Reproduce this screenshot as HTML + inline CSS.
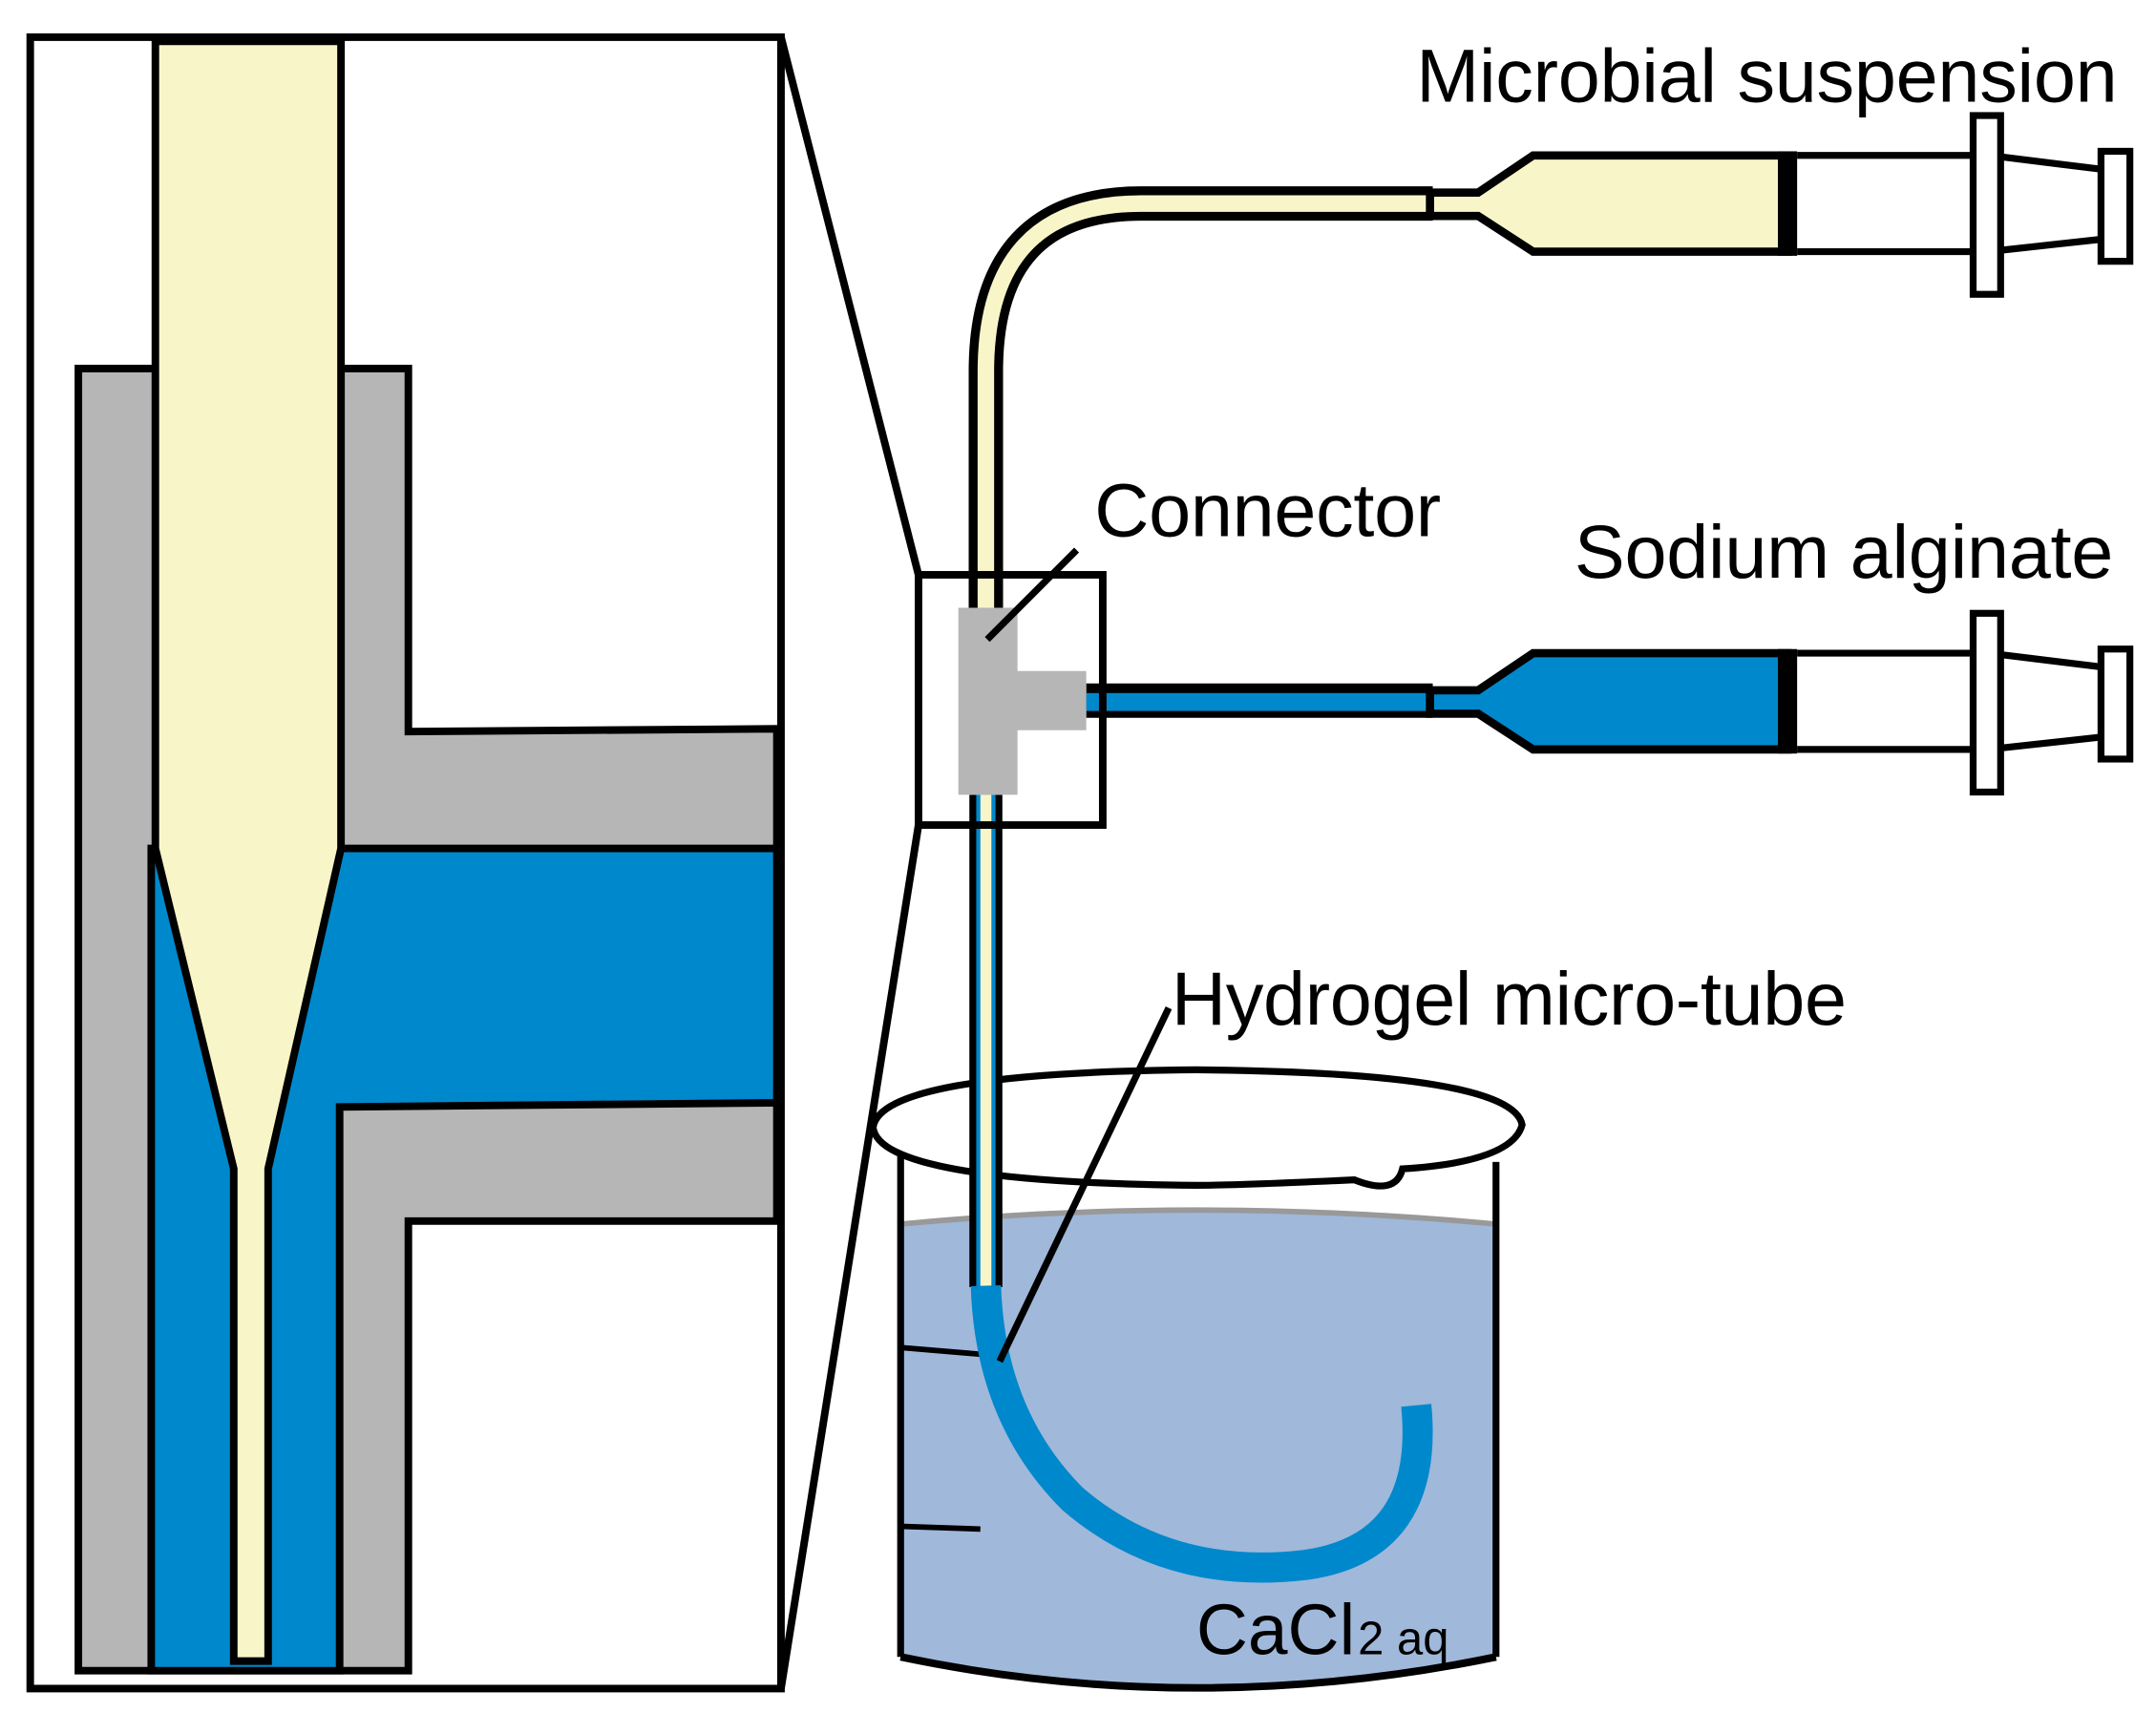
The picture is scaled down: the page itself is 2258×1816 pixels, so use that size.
<!DOCTYPE html>
<html><head><meta charset="utf-8"><style>html,body{margin:0;padding:0;background:#fff}svg{display:block}</style></head>
<body>
<svg width="2258" height="1816" viewBox="0 0 1568 1261" xmlns="http://www.w3.org/2000/svg" font-family="Liberation Sans, Arial, sans-serif">
<rect width="1568" height="1261" fill="#fff"/>
<g stroke-width="5.5">
<rect x="22" y="27" width="546" height="1201" fill="#fff" stroke="#000"/>
<polygon points="57,268 297,268 297,532 565,530 565,888 297,888 297,1215 57,1215" fill="#b5b6b5" stroke="#000"/>
<polygon points="110,617 565,617 565,802 247,805 247,1215 110,1215" fill="#0088cc" stroke="#000"/>
<polygon points="113,30 248,30 248,617 195,850 195,1208 170,1208 170,850 113,617" fill="#f8f6c8" stroke="#000"/>
<line x1="568" y1="27" x2="668" y2="418" stroke="#000"/>
<line x1="568" y1="1228" x2="668" y2="600" stroke="#000"/>
</g>
<path d="M717,445 L717,270 Q717,148 830,148 L1042,148" fill="none" stroke="#000" stroke-width="25"/>
<path d="M717,445 L717,270 Q717,148 830,148 L1042,148" fill="none" stroke="#f8f6c8" stroke-width="12"/>
<rect x="790" y="497" width="252" height="25" fill="#000"/>
<rect x="790" y="504" width="252" height="13" fill="#0088cc"/>
<g>
<polygon points="1040,140 1075,140 1115,113 1300,113 1300,183 1115,183 1075,157 1040,157" fill="#f8f6c8" stroke="#000" stroke-width="6"/>
<line x1="1041" y1="138" x2="1041" y2="159" stroke="#000" stroke-width="3"/>
<rect x="1293" y="110" width="14" height="76" fill="#000"/>
<line x1="1307" y1="113" x2="1436" y2="113" stroke="#000" stroke-width="5"/>
<line x1="1307" y1="183" x2="1436" y2="183" stroke="#000" stroke-width="5"/>
<rect x="1435" y="84" width="20" height="130" fill="#fff" stroke="#000" stroke-width="5"/>
<line x1="1455" y1="114" x2="1528" y2="123" stroke="#000" stroke-width="5"/>
<line x1="1455" y1="182" x2="1528" y2="174" stroke="#000" stroke-width="5"/>
<rect x="1528" y="110" width="21" height="80" fill="#fff" stroke="#000" stroke-width="5"/>
</g>
<g transform="translate(0,362)">
<polygon points="1040,140 1075,140 1115,113 1300,113 1300,183 1115,183 1075,157 1040,157" fill="#0088cc" stroke="#000" stroke-width="6"/>
<line x1="1041" y1="138" x2="1041" y2="159" stroke="#000" stroke-width="3"/>
<rect x="1293" y="110" width="14" height="76" fill="#000"/>
<line x1="1307" y1="113" x2="1436" y2="113" stroke="#000" stroke-width="5"/>
<line x1="1307" y1="183" x2="1436" y2="183" stroke="#000" stroke-width="5"/>
<rect x="1435" y="84" width="20" height="130" fill="#fff" stroke="#000" stroke-width="5"/>
<line x1="1455" y1="114" x2="1528" y2="123" stroke="#000" stroke-width="5"/>
<line x1="1455" y1="182" x2="1528" y2="174" stroke="#000" stroke-width="5"/>
<rect x="1528" y="110" width="21" height="80" fill="#fff" stroke="#000" stroke-width="5"/>
</g>
<path d="M657,890 Q870,870 1086,890 L1086,1205 Q870,1248 657,1205 Z" fill="#a0b8da"/>
<path d="M657,890 Q870,870 1086,890" fill="none" stroke="#999" stroke-width="4"/>
<path d="M655,1205 Q870,1250 1088,1205" fill="none" stroke="#000" stroke-width="5.5"/>
<line x1="655" y1="835" x2="655" y2="1205" stroke="#000" stroke-width="5"/>
<line x1="1088" y1="845" x2="1088" y2="1205" stroke="#000" stroke-width="5"/>
<path d="M635,820 Q640,780 870,778 Q1100,780 1107,818 Q1100,845 1020,850 Q1015,870 985,858 Q900,862 870,862 Q640,860 635,820 Z" fill="#fff" stroke="#000" stroke-width="5"/>
<line x1="655" y1="980" x2="715" y2="985" stroke="#000" stroke-width="4"/>
<line x1="655" y1="1110" x2="713" y2="1112" stroke="#000" stroke-width="4"/>
<rect x="705" y="578" width="24" height="358" fill="#000"/>
<rect x="710" y="578" width="14" height="358" fill="#0088cc"/>
<rect x="713" y="578" width="8" height="358" fill="#f8f6c8"/>
<rect x="668" y="418" width="134" height="182" fill="none" stroke="#000" stroke-width="5.5"/>
<polygon points="697,442 740,442 740,488 790,488 790,531 740,531 740,578 697,578" fill="#b5b6b5"/>
<path d="M717,935 Q720,1030 780,1090 Q850,1150 950,1138 Q1040,1125 1030,1022" fill="none" stroke="#0088cc" stroke-width="22"/>
<line x1="718" y1="465" x2="783" y2="400" stroke="#000" stroke-width="5"/>
<line x1="727" y1="990" x2="850" y2="733" stroke="#000" stroke-width="5"/>
<text x="1030" y="74" font-size="55" textLength="510">Microbial suspension</text>
<text x="796" y="390" font-size="55" textLength="252">Connector</text>
<text x="1145" y="420" font-size="55" textLength="392">Sodium alginate</text>
<text x="852" y="745" font-size="55" textLength="491">Hydrogel micro-tube</text>
<text x="870" y="1203" font-size="52">CaCl<tspan font-size="34" dx="2">2 aq</tspan></text>
</svg>
</body></html>
